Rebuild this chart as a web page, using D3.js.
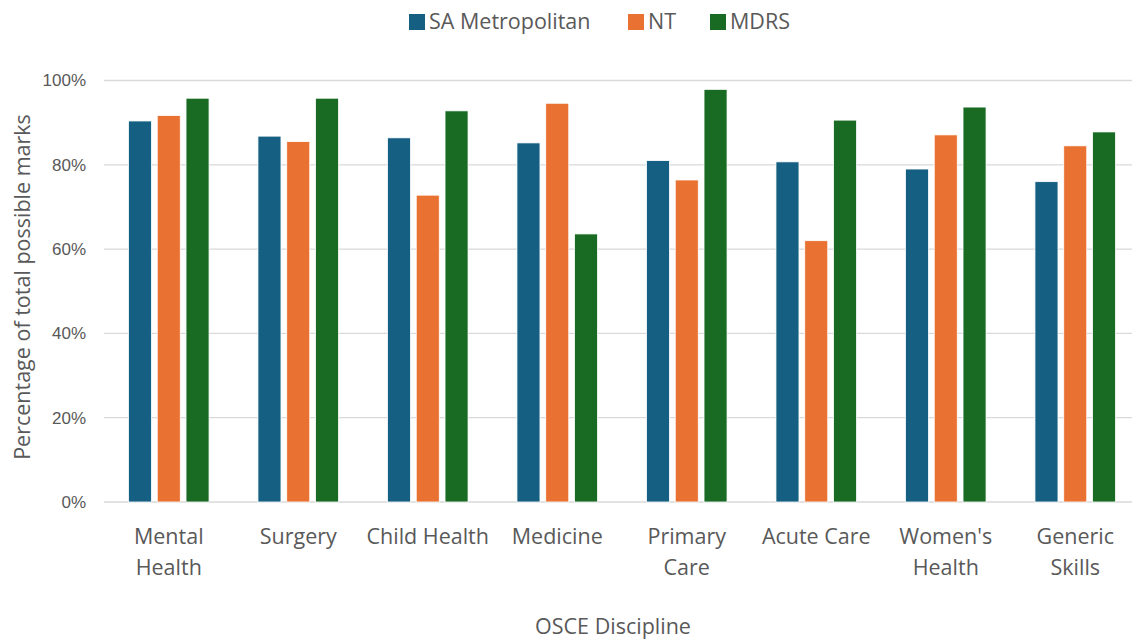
<!DOCTYPE html>
<html>
<head>
<meta charset="utf-8">
<script src="https://cdn.jsdelivr.net/npm/d3@7"></script>
<style>
  html, body { margin: 0; padding: 0; background: #fff; }
  svg { display: block; font-family: "Open Sans", "Noto Sans", sans-serif; }
</style>
</head>
<body>
<svg id="chart" width="1132" height="639"></svg>
<script>
// OSCE results by discipline and cohort
const categories = ["Mental Health", "Surgery", "Child Health", "Medicine",
                    "Primary Care", "Acute Care", "Women's Health", "Generic Skills"];
const categoryLines = [["Mental", "Health"], ["Surgery"], ["Child Health"], ["Medicine"],
                       ["Primary", "Care"], ["Acute Care"], ["Women's", "Health"], ["Generic", "Skills"]];
const seriesNames = ["SA Metropolitan", "NT", "MDRS"];
const saMetropolitan = [90.4, 86.8, 86.4, 85.2, 81.0, 80.7, 79.0, 76.0];
const nt             = [91.7, 85.5, 72.8, 94.6, 76.4, 62.0, 87.1, 84.5];
const mdrs           = [95.8, 95.8, 92.8, 63.6, 97.9, 90.6, 93.7, 87.8];
const yTicks = [0, 20, 40, 60, 80, 100];
const colors = ["#156082", "#E97132", "#196B24"];

const seriesValues = [saMetropolitan, nt, mdrs];
const rows = categories.map((c, i) => ({
  category: c,
  values: seriesNames.map((s, j) => ({ series: s, value: seriesValues[j][i] }))
}));

const svg = d3.select("#chart");
const margin = { left: 104, right: -8, top: 80.5, bottom: 137 };
const W = 1132, H = 639;
const textColor = "#595959";

const x0 = d3.scaleBand().domain(categories).range([margin.left, W - margin.right]).padding(0);
const groupWidth = 80.6;
const x1 = d3.scaleBand().domain(seriesNames).range([0, groupWidth]).paddingInner(0.2).paddingOuter(0);
const y = d3.scaleLinear().domain([0, 100]).range([H - margin.bottom, margin.top]);
const color = d3.scaleOrdinal().domain(seriesNames).range(colors);

// horizontal gridlines
svg.append("g")
  .selectAll("line")
  .data(yTicks)
  .join("line")
  .attr("x1", margin.left)
  .attr("x2", W)
  .attr("y1", d => y(d))
  .attr("y2", d => y(d))
  .attr("stroke", "#d9d9d9")
  .attr("stroke-width", 1.3);

// y axis labels
const yAxis = d3.axisLeft(y).tickValues(yTicks).tickFormat(d => d + "%").tickSize(0).tickPadding(18);
const yg = svg.append("g").attr("transform", `translate(${margin.left},0)`).call(yAxis);
yg.select(".domain").remove();
yg.selectAll("text").attr("fill", textColor).style("font-size", "17px");

// bars
const groups = svg.append("g")
  .selectAll("g")
  .data(rows)
  .join("g")
  .attr("transform", d => `translate(${x0(d.category) + (x0.bandwidth() - groupWidth) / 2},0)`);

groups.selectAll("rect")
  .data(d => d.values)
  .join("rect")
  .attr("x", d => x1(d.series))
  .attr("width", x1.bandwidth())
  .attr("y", d => y(d.value))
  .attr("height", d => y(0) - y(d.value))
  .attr("fill", d => color(d.series))
  .attr("stroke", "#ffffff")
  .attr("stroke-width", 0.8);

// category labels
const xg = svg.append("g");
categories.forEach((c, i) => {
  const cx = x0(c) + x0.bandwidth() / 2;
  const t = xg.append("text")
    .attr("x", cx)
    .attr("y", 544)
    .attr("text-anchor", "middle")
    .attr("fill", textColor)
    .style("font-size", "21.5px");
  categoryLines[i].forEach((line, k) => {
    t.append("tspan")
      .attr("x", cx)
      .attr("dy", k === 0 ? 0 : 30.5)
      .text(line);
  });
});

// axis titles
svg.append("text")
  .attr("x", 613)
  .attr("y", 634)
  .attr("text-anchor", "middle")
  .attr("fill", textColor)
  .style("font-size", "21.5px")
  .text("OSCE Discipline");

svg.append("text")
  .attr("transform", "translate(30,287) rotate(-90)")
  .attr("text-anchor", "middle")
  .attr("fill", textColor)
  .style("font-size", "21.5px")
  .text("Percentage of total possible marks");

// legend
const legendItems = [
  { name: "SA Metropolitan", x: 409 },
  { name: "NT", x: 628 },
  { name: "MDRS", x: 710 }
];
const lg = svg.append("g");
legendItems.forEach(it => {
  lg.append("rect")
    .attr("x", it.x).attr("y", 14)
    .attr("width", 16).attr("height", 16)
    .attr("fill", color(it.name));
  lg.append("text")
    .attr("x", it.x + 20).attr("y", 29)
    .attr("fill", textColor)
    .style("font-size", "21.5px")
    .text(it.name);
});
</script>
</body>
</html>
